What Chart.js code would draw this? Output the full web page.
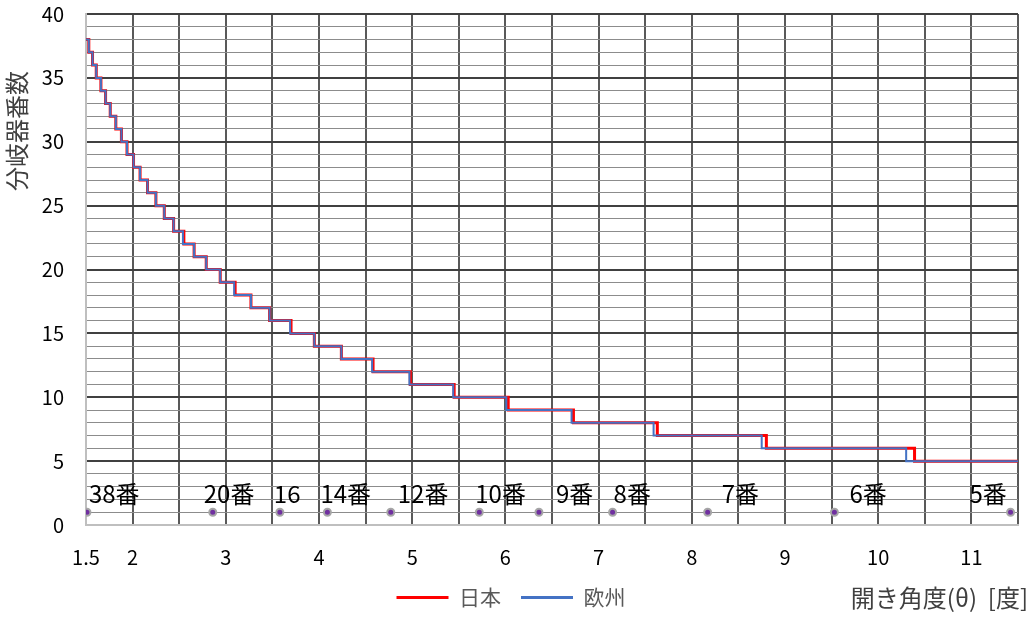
<!DOCTYPE html>
<html>
<head>
<meta charset="utf-8">
<script src="https://cdn.jsdelivr.net/npm/chart.js@4/dist/chart.umd.min.js"></script>
<style>
    html, body { margin: 0; padding: 0; background: #fff; }
    #wrap { width: 1035px; height: 619px; position: relative; }
</style>
</head>
<body>
<div id="wrap"><canvas id="chart"></canvas></div>
<script>
// turnout number levels, and the angle (deg) where each level begins
const levels = [38, 37, 36, 35, 34, 33, 32, 31, 30, 29, 28, 27, 26, 25, 24, 23, 22,
    21, 20, 19, 18, 17, 16, 15, 14, 13, 12, 11, 10, 9, 8, 7, 6, 5];
const japanStart = [1.50, 1.53, 1.57, 1.61, 1.66, 1.71, 1.76, 1.82, 1.88, 1.94, 2.01, 2.08,
    2.16, 2.25, 2.34, 2.44, 2.55, 2.66, 2.79, 2.94, 3.10, 3.27, 3.47, 3.70, 3.95, 4.24,
    4.58, 4.98, 5.45, 6.03, 6.73, 7.63, 8.80, 10.39];
const europeStart = [1.50, 1.53, 1.57, 1.61, 1.66, 1.71, 1.76, 1.82, 1.88, 1.94, 2.01, 2.08,
    2.16, 2.25, 2.34, 2.44, 2.54, 2.66, 2.79, 2.94, 3.09, 3.27, 3.47, 3.69, 3.95, 4.24,
    4.57, 4.97, 5.44, 6.01, 6.71, 7.59, 8.75, 10.30];
const angleEnd = 11.5;

// marked turnouts along the bottom
const markerAngles = [1.51, 2.86, 3.58, 4.09, 4.77, 5.72, 6.36, 7.15, 8.17, 9.53, 11.42];
const markerLabels = ['38番', '20番', '16', '14番', '12番', '10番', '9番', '8番', '7番', '6番', '5番'];
const markerLevel = 1;

const seriesNames = ['日本', '欧州'];
const xTickValues = [1.5, 2, 2.5, 3, 3.5, 4, 4.5, 5, 5.5, 6, 6.5, 7, 7.5, 8, 8.5, 9, 9.5, 10, 10.5, 11, 11.5];
const xTickLabels = ['1.5', '2', '', '3', '', '4', '', '5', '', '6', '', '7', '', '8', '', '9', '', '10', '', '11', ''];
const yTitle = '分岐器番数';
const xTitle = '開き角度(θ)  [度]';

const FONT = '"Noto Sans CJK JP", "Noto Sans", sans-serif';

function stepData(starts) {
    const pts = levels.map((n, i) => ({ x: starts[i], y: n }));
    pts.push({ x: angleEnd, y: levels[levels.length - 1] });
    return pts;
}

// label nudges in px (data labels were hand-placed in the original)
const labelDx = [2, -9, -6, -7, 7, -4, 17, 1, 14, 15, -41];

const extras = {
    id: 'extras',
    afterDatasetsDraw(chart) {
        const { ctx, scales: { x, y } } = chart;
        ctx.save();
        ctx.font = '24px ' + FONT;
        ctx.fillStyle = '#000';
        ctx.textBaseline = 'middle';
        ctx.textAlign = 'left';
        markerLabels.forEach((t, i) => {
            const px = x.getPixelForValue(markerAngles[i]) + labelDx[i];
            const py = y.getPixelForValue(markerLevel) - 18;
            ctx.fillText(t, px, py);
        });
        // axis titles
        ctx.fillStyle = '#404040';
        ctx.textAlign = 'right';
        ctx.fillText(xTitle, 1028, 598);
        ctx.translate(17, 131);
        ctx.rotate(-Math.PI / 2);
        ctx.textAlign = 'center';
        ctx.fillText(yTitle, 0, 0);
        ctx.restore();
    }
};

new Chart(document.getElementById('chart'), {
    type: 'line',
    data: {
        datasets: [
            {
                label: seriesNames[0],
                data: stepData(japanStart),
                borderColor: '#FF0000',
                backgroundColor: '#FF0000',
                borderWidth: 3,
                stepped: true,
                pointRadius: 0,
                order: 2
            },
            {
                label: seriesNames[1],
                data: stepData(europeStart),
                borderColor: '#4472C4',
                backgroundColor: '#4472C4',
                borderWidth: 2,
                stepped: true,
                pointRadius: 0,
                order: 1
            },
            {
                label: 'markers',
                data: markerAngles.map(a => ({ x: a, y: markerLevel })),
                showLine: false,
                pointRadius: 3.5,
                pointBorderWidth: 2,
                pointBackgroundColor: '#7030A0',
                pointBorderColor: '#A6A6A6',
                order: 0
            }
        ]
    },
    options: {
        responsive: true,
        maintainAspectRatio: false,
        animation: false,
        layout: { padding: { top: 14, right: 17, left: 4, bottom: 1 } },
        plugins: {
            tooltip: { enabled: false },
            legend: {
                position: 'bottom',
                labels: {
                    font: { family: FONT, size: 21 },
                    color: '#595959',
                    boxWidth: 52,
                    boxHeight: 3,
                    padding: 20,
                    filter: item => item.datasetIndex < 2,
                    sort: (a, b) => a.datasetIndex - b.datasetIndex,
                    generateLabels: chart =>
                        Chart.defaults.plugins.legend.labels.generateLabels(chart)
                            .map(l => ({ ...l, fillStyle: l.strokeStyle, lineWidth: 0 }))
                }
            }
        },
        scales: {
            x: {
                type: 'linear',
                min: 1.5,
                max: angleEnd,
                afterBuildTicks: axis => {
                    axis.ticks = xTickValues.map(v => ({ value: v }));
                },
                afterFit: s => {
                    s.height = 42;
                    s.paddingLeft = 0;
                    s.paddingRight = 0;
                },
                ticks: {
                    autoSkip: false,
                    maxRotation: 0,
                    padding: 20,
                    color: '#000',
                    font: { family: FONT, size: 20 },
                    callback: (v) => {
                        const i = xTickValues.indexOf(v);
                        return i >= 0 ? xTickLabels[i] : '';
                    }
                },
                grid: {
                    drawTicks: false,
                    color: c => (c.tick && c.tick.value === 1.5) ? 'rgba(0,0,0,0)' : '#595959',
                    lineWidth: 2
                },
                border: { color: '#BFBFBF', width: 2 }
            },
            y: {
                min: 0,
                max: 40,
                afterFit: s => {
                    s.width = 82;
                    s.paddingTop = 0;
                    s.paddingBottom = 0;
                },
                ticks: {
                    stepSize: 1,
                    autoSkip: false,
                    padding: 22,
                    color: '#000',
                    font: { family: FONT, size: 20 },
                    callback: v => (v % 5 === 0 ? String(v) : '')
                },
                grid: {
                    drawTicks: false,
                    color: c => {
                        const v = c.tick ? c.tick.value : 0;
                        if (v === 0) return 'rgba(0,0,0,0)';
                        return v % 5 === 0 ? '#404040' : '#8C8C8C';
                    },
                    lineWidth: c => ((c.tick && c.tick.value % 5 === 0) ? 2 : 1)
                },
                border: { color: '#BFBFBF', width: 2 }
            }
        }
    },
    plugins: [extras]
});
</script>
</body>
</html>
